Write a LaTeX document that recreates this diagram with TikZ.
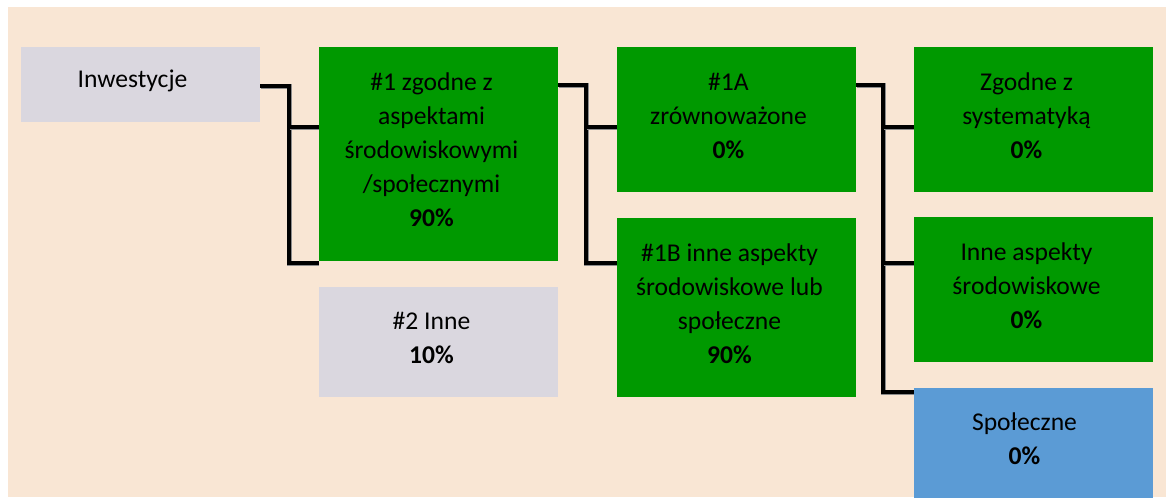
\documentclass[tikz,border=0pt]{standalone}
\usepackage{fontspec}
\setmainfont{Carlito}
\definecolor{peach}{HTML}{F9E6D4}
\definecolor{boxgreen}{HTML}{009900}
\definecolor{boxgray}{HTML}{DAD7DF}
\definecolor{boxblue}{HTML}{5B9BD5}
\tikzset{
  box/.style={rectangle, inner sep=0pt, minimum width=179.25pt},
  greenbox/.style={box, fill=boxgreen},
  graybox/.style={box, fill=boxgray},
  bluebox/.style={box, fill=boxblue},
  txt/.style={align=center, inner sep=0pt, font=\fontsize{19.2pt}{25.5pt}\selectfont, text=black},
  conn/.style={line width=2.7pt, draw=black, line join=miter,
    preaction={draw=black!45, line width=3.3pt, transform canvas={shift={(0.4pt,-0.4pt)}}}}
}
\begin{document}
\begin{tikzpicture}[x=0.75pt, y=-0.75pt]
\useasboundingbox (0,0) rectangle (1172,497);
\fill[white] (0,0) rectangle (1172,497);
\fill[peach] (8,7) rectangle (1166,497);
\begin{scope}
\clip (0,0) rectangle (1172,497);
% connectors
\coordinate (j1) at (289,263);
\coordinate (j2) at (586,263);
\coordinate (j3) at (883,392);
% boxes
\node[graybox, minimum height=56.25pt] (inw) at (140.5,84.5) {};
\node[greenbox, minimum height=160.5pt] (n1) at (438.5,154) {};
\node[graybox, minimum height=82.5pt] (n2) at (438.5,342) {};
\node[greenbox, minimum height=108.75pt] (n1a) at (736.5,119.5) {};
\node[greenbox, minimum height=134.25pt] (n1b) at (736.5,307.5) {};
\node[greenbox, minimum height=108.75pt] (zg) at (1033.5,119.5) {};
\node[greenbox, minimum height=108.75pt] (inne) at (1033.5,289.5) {};
\node[bluebox, minimum height=82.5pt] (spol) at (1033.5,443) {};
\draw[conn] (inw.east |- {(0,86)}) -| (j1) -- (n2.west |- j1);
\draw[conn] (j1 |- {(0,127)}) -- (n1.west |- {(0,127)});
\draw[conn] (n1.east |- {(0,85)}) -| (j2) -- (n1b.west |- j2);
\draw[conn] (j2 |- {(0,127)}) -- (n1a.west |- {(0,127)});
\draw[conn] (n1a.east |- {(0,85)}) -| (j3) -- (spol.west |- j3);
\draw[conn] (j3 |- {(0,127)}) -- (zg.west |- {(0,127)});
\draw[conn] (j3 |- {(0,263)}) -- (inne.west |- {(0,263)});
% texts
\node[txt] (tinw) at ([shift={(-8,-4)}]inw.center) {Inwestycje};
\node[txt] (tn1) at ([shift={(-7,-4)}]n1.center) {\#1 zgodne z\\aspektami\\środowiskowymi\\/społecznymi\\\textbf{90\%}};
\node[txt] (tn2) at ([shift={(-7,-4)}]n2.center) {\#2 Inne\\\textbf{10\%}};
\node[txt] (tn1a) at ([shift={(-8,-4)}]n1a.center) {\#1A\\zrównoważone\\\textbf{0\%}};
\node[txt] (tn1b) at ([shift={(-7,-4)}]n1b.center) {\#1B inne aspekty\\środowiskowe lub\\społeczne\\\textbf{90\%}};
\node[txt] (tzg) at ([shift={(-7,-4)}]zg.center) {Zgodne z\\systematyką\\\textbf{0\%}};
\node[txt] (tinne) at ([shift={(-7,-4)}]inne.center) {Inne aspekty\\środowiskowe\\\textbf{0\%}};
\node[txt] (tspol) at ([shift={(-9,-4)}]spol.center) {Społeczne\\\textbf{0\%}};
\end{scope}
\end{tikzpicture}
\end{document}
